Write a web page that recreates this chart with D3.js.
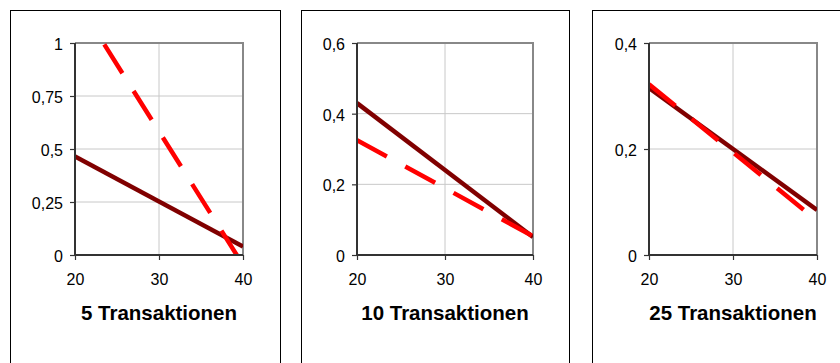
<!DOCTYPE html>
<html><head><meta charset="utf-8">
<script src="https://cdn.jsdelivr.net/npm/d3@7/dist/d3.min.js"></script>
<style>body{margin:0;background:#fff}svg{display:block}</style>
</head><body>
<svg id="c" width="840" height="363"></svg>
<script>
const panelTitles = ["5 Transaktionen", "10 Transaktionen", "25 Transaktionen"];
const xValues = [20, 40];
const xTicks = [20, 30, 40];
const yMaxes = [1, 0.6, 0.4];
const yTicks = [[0, 0.25, 0.5, 0.75, 1], [0, 0.2, 0.4, 0.6], [0, 0.2, 0.4]];
const solidSeries = [[0.465, 0.04], [0.43, 0.051], [0.315, 0.085]];
const dashedSeries = [[1.213, -0.047], [0.325, 0.053], [0.322, 0.065]];

// layout (pixels)
const frames = [[10, 280], [301, 569], [592, 870]];
const plots = [[75, 243], [357, 533], [649, 817]];
const plotTop = 43, plotBottom = 255;
const FONT = "Liberation Sans, Arial, sans-serif";

const svg = d3.select("#c");
const fmt = v => String(v).replace(".", ",");

panelTitles.forEach((title, i) => {
  const [fx0, fx1] = frames[i];
  svg.append("rect").attr("x", fx0 + 0.5).attr("y", 10.5)
    .attr("width", fx1 - fx0).attr("height", 400)
    .attr("fill", "none").attr("stroke", "#000").attr("stroke-width", 1);

  const [px0, px1] = plots[i];
  const x = d3.scaleLinear().domain([20, 40]).range([px0, px1]);
  const y = d3.scaleLinear().domain([0, yMaxes[i]]).range([plotBottom, plotTop]);
  const g = svg.append("g");

  // grid
  g.selectAll(".gy").data(yTicks[i]).join("line")
    .attr("x1", px0).attr("x2", px1)
    .attr("y1", d => y(d)).attr("y2", d => y(d))
    .attr("stroke", "#c8c8c8").attr("stroke-width", 1);
  g.selectAll(".gx").data(xTicks).join("line")
    .attr("x1", d => x(d)).attr("x2", d => x(d))
    .attr("y1", plotTop).attr("y2", plotBottom)
    .attr("stroke", "#c8c8c8").attr("stroke-width", 1);

  // plot border top/right
  g.append("path")
    .attr("d", `M${px0},${plotTop}H${px1}V${plotBottom}`)
    .attr("fill", "none").attr("stroke", "#888").attr("stroke-width", 2);

  const clipId = "clip" + i;
  svg.append("clipPath").attr("id", clipId).append("rect")
    .attr("x", px0).attr("y", plotTop).attr("width", px1 - px0).attr("height", plotBottom - plotTop);

  const line = d3.line().x((d, k) => x(xValues[k])).y(d => y(d));
  const lg = g.append("g").attr("clip-path", `url(#${clipId})`);
  lg.append("path").datum(solidSeries[i]).attr("d", line)
    .attr("fill", "none").attr("stroke", "#800000").attr("stroke-width", 4.5);
  lg.append("path").datum(dashedSeries[i]).attr("d", line)
    .attr("fill", "none").attr("stroke", "#ff0000").attr("stroke-width", 4.5)
    .attr("stroke-dasharray", "34,21");

  // axes
  const yAxis = d3.axisLeft(y).tickValues(yTicks[i]).tickFormat(fmt).tickSize(5).tickPadding(7);
  const ya = g.append("g").attr("transform", `translate(${px0},0)`).call(yAxis);
  const xAxis = d3.axisBottom(x).tickValues(xTicks).tickFormat(d => d).tickSize(5).tickPadding(14);
  const xa = g.append("g").attr("transform", `translate(0,${plotBottom})`).call(xAxis);
  [ya, xa].forEach(a => {
    a.attr("font-size", 16).attr("font-family", FONT);
    a.select(".domain").attr("stroke", "#333").attr("stroke-width", 2)
      .attr("d", a === ya ? `M0,${plotTop}V${plotBottom}` : `M${px0},0H${px1}`);
    a.selectAll(".tick line").attr("stroke", "#333").attr("stroke-width", 1.2);
    a.selectAll(".tick text").attr("font-family", FONT)
      .attr("font-size", 16).attr("fill", "#000");
  });
  ya.selectAll(".tick text").attr("dy", "0.4em");

  svg.append("text").attr("x", (px0 + px1) / 2).attr("y", 320)
    .attr("text-anchor", "middle").attr("font-family", FONT)
    .attr("font-weight", "bold").attr("font-size", 20.5).attr("fill", "#000")
    .text(title);
});
</script>
</body></html>
